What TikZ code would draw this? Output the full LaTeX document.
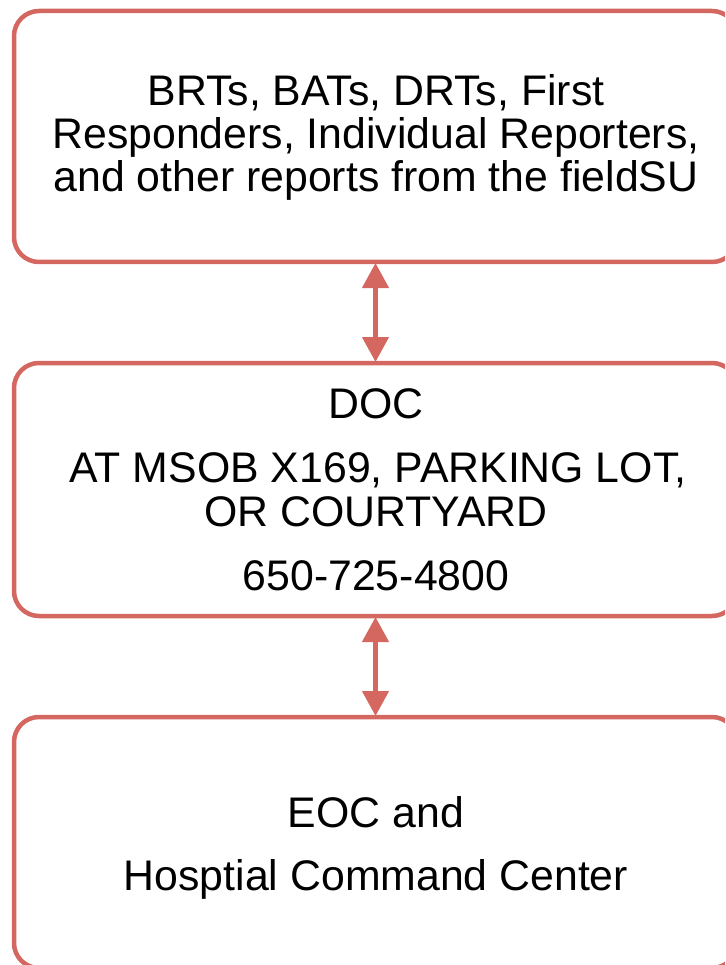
\documentclass[tikz,border=0pt]{standalone}
\usepackage{fontspec}
\setmainfont{Liberation Sans}
\usetikzlibrary{arrows.meta}
\definecolor{boxred}{RGB}{212,104,97}
\tikzset{
  box/.style={draw=boxred, line width=4.5pt, rounded corners=25pt, rectangle, inner sep=0pt, outer sep=0pt, fill=white},
  txt/.style={anchor=base, inner sep=0pt, font=\fontsize{42.8}{50}\selectfont, text=black},
  link/.style={draw=boxred, line width=4.5pt, {Triangle[width=26pt,length=25pt]}-{Triangle[width=26pt,length=25pt]}, shorten <=1pt, shorten >=1pt}
}
\begin{document}
\begin{tikzpicture}[x=1pt,y=-1pt]
\useasboundingbox (0,0) rectangle (725,965);
\clip (0,0) rectangle (725,965);
\node[box, minimum width=723pt, minimum height=251pt] (top) at (375.5,136.5) {};
\node[box, minimum width=723pt, minimum height=253pt] (mid) at (375.5,489.5) {};
\node[box, minimum width=723pt, minimum height=251pt] (bot) at (375.5,842.5) {};
\node[txt] (t1) at (376,106) {BRTs, BATs, DRTs, First};
\node[txt] (t2) at (376,149) {Responders, Individual Reporters,};
\node[txt] (t3) at (376,192) {and other reports from the fieldSU};
\node[txt] (m1) at (376,418) {DOC};
\node[txt] (m2) at (378,482) {AT MSOB X169, PARKING LOT,};
\node[txt] (m3) at (376,526) {OR COURTYARD};
\node[txt] (m4) at (376,590) {650-725-4800};
\node[txt] (b1) at (376,827) {EOC and};
\node[txt] (b2) at (376,890) {Hosptial Command Center};
\draw[link] (top.south) -- (mid.north);
\draw[link] (mid.south) -- (bot.north);
\end{tikzpicture}
\end{document}
